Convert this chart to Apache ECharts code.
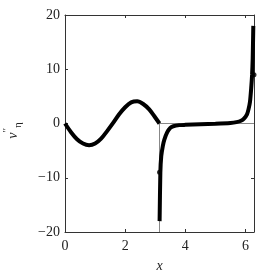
<!DOCTYPE html>
<html><head><meta charset="utf-8">
<script src="https://cdn.jsdelivr.net/npm/echarts@6/dist/echarts.min.js"></script>
<style>html,body{margin:0;padding:0;background:#fff}#c{width:266px;height:275px}</style>
</head><body><div id="c"></div>
<script>
var PI = 3.14159, TWO_PI = 6.28318;
var xTicks = [0, 2, 4, 6];
var yTicks = [-20, -10, 0, 10, 20];
var leftX = [0, 0.2, 0.4, 0.6, 0.8, 1.0, 1.2, 1.4, 1.6, 1.8, 2.0, 2.2, 2.4, 2.6, 2.8, 3.0, 3.14159];
var leftY = [0, -1.6, -2.9, -3.7, -4.0, -3.7, -2.8, -1.4, 0.1, 1.7, 3.0, 3.9, 4.1, 3.6, 2.6, 1.1, 0];
var rightX = [3.145, 3.17, 3.2, 3.25, 3.3, 3.4, 3.5, 3.6, 3.8, 4.0, 4.5, 5.0, 5.5, 5.7, 5.85, 5.95, 6.05, 6.1, 6.15, 6.19, 6.22, 6.24, 6.26];
var rightY = [-18, -9, -6, -4.2, -3, -1.6, -0.8, -0.5, -0.3, -0.25, -0.15, -0.05, 0.1, 0.25, 0.5, 0.9, 1.7, 2.6, 4.0, 6.5, 9, 12, 18];
var dotX = [3.14159, 6.28318];
var dotY = [-9, 9];
var guideX = [3.14159, 3.14159, 6.28318];
var guideY = [-20, 0, 0];

function zip(a, b){ return a.map(function(v,i){ return [v, b[i]]; }); }

var chart = echarts.init(document.getElementById('c'), null, {renderer:'canvas'});
var font = '"Liberation Serif", "Times New Roman", serif';
var axLine = {show:true, onZero:false, lineStyle:{color:'#333', width:1}};
var tick = {show:true, inside:true, length:3, lineStyle:{color:'#333'}};
chart.setOption({
  animation:false,
  backgroundColor:'#fff',
  grid:{left:65, right:12, top:15, bottom:43, containLabel:false, outerBoundsMode:'none'},
  xAxis:[{
    type:'value', min:0, max:TWO_PI, interval:2, position:'bottom',
    axisLine:axLine, splitLine:{show:false}, axisTick:tick,
    axisLabel:{showMaxLabel:false, color:'#222', fontFamily:font, fontSize:14, margin:7,
      formatter:function(v){ return xTicks.indexOf(v) >= 0 ? String(v) : ''; }},
    name:'x', nameLocation:'middle', nameGap:27,
    nameTextStyle:{fontFamily:font, fontStyle:'italic', fontSize:14, color:'#222'}
  },{
    type:'value', min:0, max:TWO_PI, interval:2, position:'top',
    axisLine:axLine, splitLine:{show:false}, axisTick:tick,
    axisLabel:{show:false}
  }],
  yAxis:[{
    type:'value', min:-20, max:20, interval:10, position:'left',
    axisLine:axLine, splitLine:{show:false}, axisTick:tick,
    axisLabel:{color:'#222', fontFamily:font, fontSize:14, margin:5,
      formatter:function(v){ return yTicks.indexOf(v) >= 0 ? (v < 0 ? '\u2212' + (-v) : String(v)) : ''; }},
    name:'{v|v}{p|\u2032\u2032}{s|\u03b7}', nameLocation:'middle', nameGap:41, nameRotate:90,
    nameTextStyle:{color:'#222', padding:[0,14,0,0], rich:{
      v:{fontFamily:font, fontStyle:'italic', fontSize:14, color:'#222'},
      p:{fontFamily:font, fontSize:10, color:'#222', verticalAlign:'top', lineHeight:22},
      s:{fontFamily:font, fontSize:11, color:'#222', verticalAlign:'bottom', lineHeight:22}
    }}
  },{
    type:'value', min:-20, max:20, interval:10, position:'right',
    axisLine:axLine, splitLine:{show:false}, axisTick:tick,
    axisLabel:{show:false}
  }],
  series:[
    {type:'line', data:zip(guideX, guideY), symbol:'none', lineStyle:{color:'#888', width:1}, z:1},
    {type:'line', data:zip(leftX, leftY), symbol:'none', smooth:0.3, lineStyle:{color:'#000', width:4}, z:3},
    {type:'line', data:zip(rightX, rightY), symbol:'none', smooth:0.2, lineStyle:{color:'#000', width:4}, z:3},
    {type:'scatter', data:zip(dotX, dotY), symbolSize:5, itemStyle:{color:'#000'}, z:4}
  ]
});
</script></body></html>
